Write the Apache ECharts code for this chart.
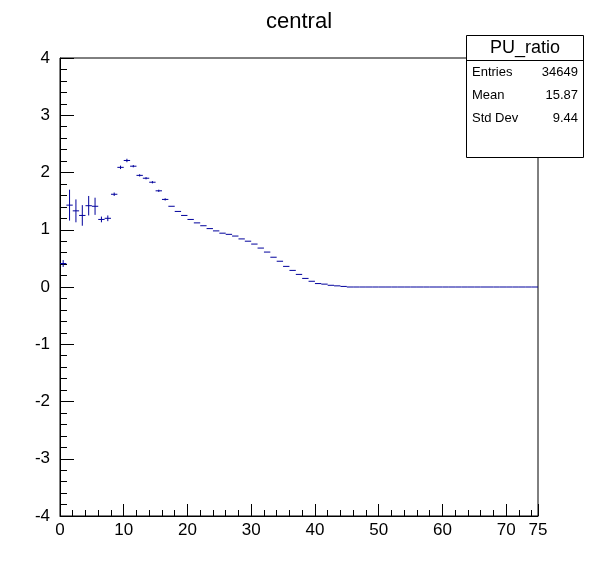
<!DOCTYPE html>
<html><head><meta charset="utf-8">
<script src="https://cdn.jsdelivr.net/npm/echarts@6/dist/echarts.min.js"></script>
<style>html,body{margin:0;padding:0;background:#fff}#c{width:598px;height:573px}</style>
</head><body><div id="c"></div>
<script>
const values = [0.41,1.43,1.33,1.25,1.42,1.41,1.18,1.20,1.62,2.09,2.21,2.11,1.95,1.90,1.83,1.68,1.53,1.41,1.32,1.25,1.18,1.12,1.07,1.02,0.98,0.94,0.92,0.89,0.84,0.80,0.75,0.68,0.61,0.52,0.45,0.36,0.29,0.22,0.15,0.10,0.06,0.05,0.03,0.02,0.01];
const errors = [0.06,0.27,0.2,0.18,0.17,0.15,0.05,0.05,0.03,0.03,0.03,0.02,0.02,0.02,0.02,0.02,0.02,0.01,0.01,0.01,0.01,0.01,0.01,0.01,0.01,0.01,0.01,0.01,0.01,0.01,0.01,0.01,0.01,0.01,0.01,0.01,0.01,0.01,0.01,0.01,0.01,0.01,0.01,0.01,0.01];
const nBins = 75;
const data = [];
for (let i = 0; i < nBins; i++) data.push([i, i < values.length ? values[i] : 0, i < errors.length ? errors[i] : 0]);
const stats = {name:'PU_ratio', entries:'34649', mean:'15.87', std:'9.44'};
const F = 'Liberation Sans, Arial, sans-serif';
const chart = echarts.init(document.getElementById('c'));
chart.setOption({
  animation:false,
  title:{text:'central', left:'center', top:6, textStyle:{fontFamily:F, fontSize:22, fontWeight:'normal', color:'#000'}},
  grid:{left:60, right:60, top:58, bottom:57, show:true, borderColor:'#000', borderWidth:1},
  xAxis:{type:'value', min:0, max:75, interval:10,
    axisLine:{onZero:false, lineStyle:{color:'#000'}},
    axisTick:{inside:true, length:12, lineStyle:{color:'#000'}},
    minorTick:{show:true, splitNumber:5, length:6, lineStyle:{color:'#000'}},
    splitLine:{show:false},
    axisLabel:{fontFamily:F, fontSize:17, color:'#000', margin:6}},
  yAxis:{type:'value', min:-4, max:4, interval:1,
    axisLine:{lineStyle:{color:'#000'}},
    axisTick:{inside:true, length:14, lineStyle:{color:'#000'}},
    minorTick:{show:true, splitNumber:5, length:7, lineStyle:{color:'#000'}},
    splitLine:{show:false},
    axisLabel:{fontFamily:F, fontSize:17, color:'#000', margin:10}},
  graphic:[
    {type:'rect', shape:{x:466.5, y:35.5, width:117, height:122}, style:{fill:'#fff', stroke:'#000', lineWidth:1}, z:100},
    {type:'line', shape:{x1:466.5, y1:60.5, x2:583.5, y2:60.5}, style:{stroke:'#000'}, z:101},
    {type:'text', x:525, y:48, style:{text:stats.name, fontFamily:F, fontSize:18, fill:'#000', align:'center', verticalAlign:'middle'}, z:101},
    {type:'text', x:472, y:72, style:{text:'Entries', fontFamily:F, fontSize:13, fill:'#000', verticalAlign:'middle'}, z:101},
    {type:'text', x:578, y:72, style:{text:stats.entries, fontFamily:F, fontSize:13, fill:'#000', align:'right', verticalAlign:'middle'}, z:101},
    {type:'text', x:472, y:95, style:{text:'Mean', fontFamily:F, fontSize:13, fill:'#000', verticalAlign:'middle'}, z:101},
    {type:'text', x:578, y:95, style:{text:stats.mean, fontFamily:F, fontSize:13, fill:'#000', align:'right', verticalAlign:'middle'}, z:101},
    {type:'text', x:472, y:118, style:{text:'Std Dev', fontFamily:F, fontSize:13, fill:'#000', verticalAlign:'middle'}, z:101},
    {type:'text', x:578, y:118, style:{text:stats.std, fontFamily:F, fontSize:13, fill:'#000', align:'right', verticalAlign:'middle'}, z:101}
  ],
  series:[{
    type:'custom', data:data, clip:true,
    renderItem:function(params, api){
      const x = api.value(0), y = api.value(1), e = api.value(2);
      const a = api.coord([x, y]), b = api.coord([x+1, y]);
      const t = api.coord([x+0.5, y+e]), d = api.coord([x+0.5, y-e]);
      const children = [{type:'line', shape:{x1:a[0], y1:a[1], x2:b[0], y2:b[1]}, style:{stroke:'#00009c', lineWidth:1}}];
      if (Math.abs(d[1]-t[1]) > 1.5) children.push({type:'line', shape:{x1:t[0], y1:t[1], x2:d[0], y2:d[1]}, style:{stroke:'#00009c', lineWidth:1}});
      return {type:'group', children:children};
    }
  }]
});
</script></body></html>
